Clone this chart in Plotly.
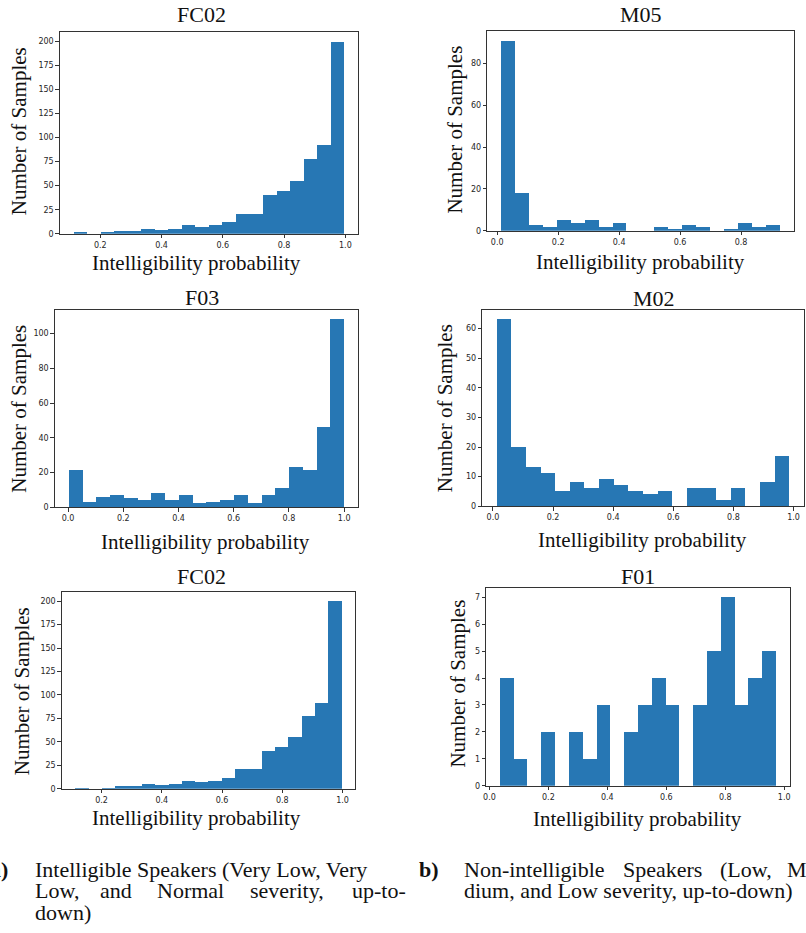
import plotly.graph_objects as go

# ---------------- data ----------------
fc02_counts = [1, 0, 1, 3, 3, 5, 4, 5, 9, 7, 9, 12, 21, 21, 40, 45, 55, 78, 92, 200]
fc02_lo, fc02_hi = 0.112, 0.996

m05_counts = [91, 18, 3, 2, 5, 4, 5, 2, 4, 0, 0, 2, 1, 3, 2, 0, 1, 4, 2, 3]
m05_lo, m05_hi = 0.013, 0.928

f03_counts = [21, 3, 6, 7, 5, 4, 8, 4, 7, 2, 3, 4, 7, 2, 7, 11, 23, 21, 46, 108]
f03_lo, f03_hi = 0.002, 0.999

m02_counts = [63, 20, 13, 11, 5, 8, 6, 9, 7, 5, 4, 5, 0, 6, 6, 2, 6, 0, 8, 17]
m02_lo, m02_hi = 0.013, 0.986

f01_counts = [4, 1, 0, 2, 0, 2, 1, 3, 0, 2, 3, 4, 3, 0, 3, 5, 7, 3, 4, 5]
f01_lo, f01_hi = 0.036, 0.973

panel_titles = ["FC02", "M05", "F03", "M02", "FC02", "F01"]
xticks_a = [0.2, 0.4, 0.6, 0.8, 1.0]
xticks_b = [0.0, 0.2, 0.4, 0.6, 0.8]
xticks_c = [0.0, 0.2, 0.4, 0.6, 0.8, 1.0]
yticks_fc02 = [0, 25, 50, 75, 100, 125, 150, 175, 200]
yticks_m05 = [0, 20, 40, 60, 80]
yticks_f03 = [0, 20, 40, 60, 80, 100]
yticks_m02 = [0, 10, 20, 30, 40, 50, 60]
yticks_f01 = [0, 1, 2, 3, 4, 5, 6, 7]

xlabel = "Intelligibility probability"
ylabel = "Number of Samples"

# ---------------- layout helpers ----------------
W, H = 806, 933
BAR = "#2777b4"
SERIF = "Liberation Serif, Times New Roman, serif"
TICKF = dict(family="DejaVu Sans, sans-serif", size=8, color="#262626")

panels = [
    # counts, lo, hi, xticks, yticks, rect(x0,x1,y0,y1), title(xy), xlabel(xy), ylabel(xy)
    (fc02_counts, fc02_lo, fc02_hi, xticks_a, yticks_fc02, (57, 356, 32, 235), (199, 15), (194, 264), (16, 132)),
    (m05_counts, m05_lo, m05_hi, xticks_b, yticks_m05, (486, 794, 31, 232), (640, 15), (640, 263), (454, 130)),
    (f03_counts, f03_lo, f03_hi, xticks_c, yticks_f03, (52, 356, 312, 510), (200, 299), (203, 545), (16, 411)),
    (m02_counts, m02_lo, m02_hi, xticks_c, yticks_m02, (481, 804, 312, 509), (653, 300), (642, 543), (443, 410)),
    (fc02_counts, fc02_lo, fc02_hi, xticks_a, yticks_fc02, (59, 353, 595, 793), (199, 580), (194, 822), (19, 695)),
    (f01_counts, f01_lo, f01_hi, xticks_c, yticks_f01, (485, 790, 591, 790), (637, 580), (637, 823), (457, 687)),
]


def px(x):
    return x / W


def py(y):
    return 1 - y / H


fig = go.Figure()
annotations = []
layout = {}

for i, (counts, lo, hi, xt, yt, rect, tpos, xlpos, ylpos) in enumerate(panels):
    n = len(counts)
    w = (hi - lo) / n
    centers = [lo + (k + 0.5) * w for k in range(n)]
    sfx = "" if i == 0 else str(i + 1)
    fig.add_trace(go.Bar(
        x=centers, y=counts, width=[w] * n,
        marker=dict(color=BAR, line=dict(width=0)),
        xaxis="x" + sfx, yaxis="y" + sfx, showlegend=False,
        hovertemplate="%{x:.3f}: %{y}<extra></extra>",
    ))
    x0, x1, y0, y1 = rect
    pad = 0.05 * (hi - lo)
    common = dict(showgrid=False, zeroline=False, showline=True, mirror=True,
                  linecolor="#333333", linewidth=1, ticks="outside", ticklen=3.5,
                  tickwidth=0.8, tickcolor="#333333", tickfont=TICKF)
    layout["xaxis" + sfx] = dict(common, domain=[px(x0), px(x1)], anchor="y" + sfx,
                                  range=[lo - pad, hi + pad], tickvals=xt,
                                  ticktext=["%.1f" % v for v in xt])
    layout["yaxis" + sfx] = dict(common, domain=[py(y1), py(y0)], anchor="x" + sfx,
                                  range=[0, 1.05 * max(counts)], tickvals=yt)
    annotations.append(dict(text=panel_titles[i], x=px(tpos[0]), y=py(tpos[1]),
                            xref="paper", yref="paper", showarrow=False,
                            xanchor="center", yanchor="middle",
                            font=dict(family=SERIF, size=22, color="#111111")))
    annotations.append(dict(text=xlabel, x=px(xlpos[0]), y=py(xlpos[1]),
                            xref="paper", yref="paper", showarrow=False,
                            xanchor="center", yanchor="middle",
                            font=dict(family=SERIF, size=21, color="#111111")))
    annotations.append(dict(text=ylabel, x=px(ylpos[0]), y=py(ylpos[1]),
                            xref="paper", yref="paper", showarrow=False, textangle=-90,
                            xanchor="center", yanchor="middle",
                            font=dict(family=SERIF, size=21, color="#111111")))

# ---------------- caption ----------------
CAP = dict(family=SERIF, size=22, color="#111111")


def cap(text, x, y, bold=False, anchor="left"):
    t = "<b>%s</b>" % text if bold else text
    annotations.append(dict(text=t, x=px(x), y=py(y), xref="paper", yref="paper",
                            showarrow=False, xanchor=anchor, yanchor="middle", font=CAP))


L1, L2, L3 = 874, 895, 917
cap("a)", 7, L1, bold=True, anchor="right")
cap("Intelligible Speakers (Very Low, Very", 30, L1)
for word, xw in [("Low,", 30), ("and", 95), ("Normal", 153), ("severity,", 246), ("up-to-", 348)]:
    cap(word, xw, L2)
cap("down)", 30, L3)

cap("b)", 416, L1, bold=True)
for word, xw in [("Non-intelligible", 461), ("Speakers", 620), ("(Low,", 718), ("Me-", 785)]:
    cap(word, xw, L1)
cap("dium, and Low severity, up-to-down)", 461, L2)

fig.update_layout(
    width=W, height=H, margin=dict(l=0, r=0, t=0, b=0),
    paper_bgcolor="white", plot_bgcolor="white", bargap=0,
    annotations=annotations, **layout,
)

fig.write_html(
    "out.html",
    config={"displayModeBar": False},
    post_script="document.body.style.margin='0';document.body.style.overflow='hidden';",
)
